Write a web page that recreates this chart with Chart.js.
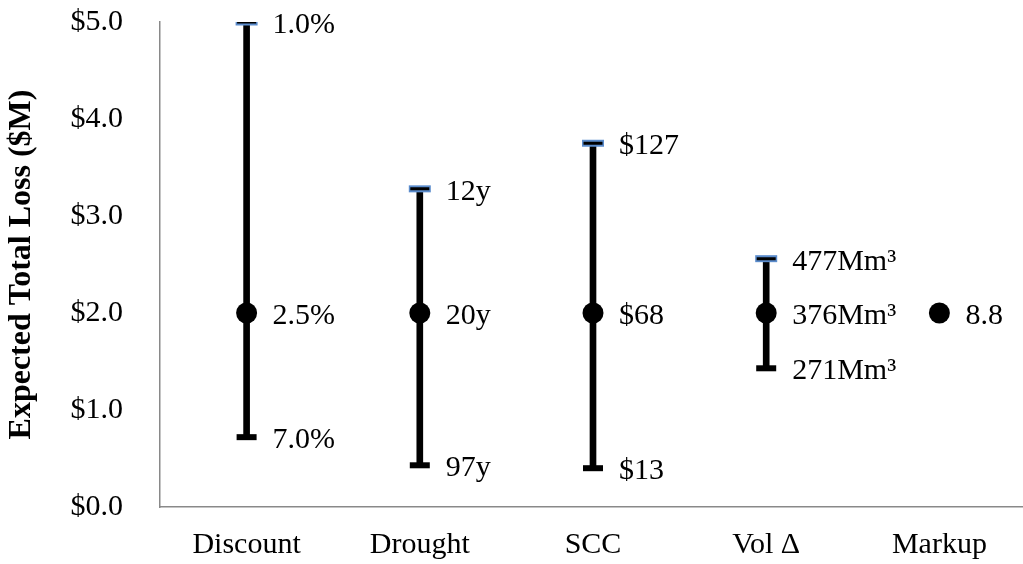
<!DOCTYPE html>
<html>
<head>
<meta charset="utf-8">
<script src="https://cdn.jsdelivr.net/npm/chart.js@4/dist/chart.umd.min.js"></script>
<style>
  html, body { margin: 0; padding: 0; background: #fff; overflow: hidden; }
  canvas { display: block; }
</style>
</head>
<body>
<canvas id="chart" width="1044" height="564"></canvas>
<script>
const categories = ['Discount', 'Drought', 'SCC', 'Vol \u0394', 'Markup'];
const midValues  = [2.0, 2.0, 2.0, 2.0, 2.0];
const highValues = [5.0, 3.28, 3.75, 2.56, null];
const lowValues  = [0.72, 0.43, 0.40, 1.43, null];

const midLabels  = ['2.5%', '20y', '$68', '376Mm\u00b3', '8.8'];
const highLabels = ['1.0%', '12y', '$127', '477Mm\u00b3', ''];
const lowLabels  = ['7.0%', '97y', '$13', '271Mm\u00b3', ''];

const yTicks = [0, 1, 2, 3, 4, 5];

const SERIF = '"Liberation Serif", "Times New Roman", serif';
const axisGray = '#898989';
const capBlue = '#5b8ccc';

// draws the text next to each point
const pointLabels = {
  id: 'pointLabels',
  afterDatasetsDraw(chart) {
    const ctx = chart.ctx;
    ctx.save();
    ctx.font = '30px ' + SERIF;
    ctx.fillStyle = '#000';
    ctx.textAlign = 'left';
    ctx.textBaseline = 'middle';
    chart.data.datasets.forEach((ds, di) => {
      if (!ds.textLabels) return;
      const meta = chart.getDatasetMeta(di);
      meta.data.forEach((el, i) => {
        const txt = ds.textLabels[i];
        if (!txt || ds.data[i] == null) return;
        ctx.fillText(txt, el.x + 26, el.y + 3);
      });
    });
    ctx.restore();
  }
};

new Chart(document.getElementById('chart'), {
  data: {
    labels: categories,
    datasets: [
      {
        type: 'bar',
        data: categories.map((c, i) => lowValues[i] == null ? null : [lowValues[i], highValues[i]]),
        backgroundColor: '#000',
        barThickness: 6,
        order: 5,
      },
      {
        type: 'line',
        data: highValues,
        showLine: false,
        pointStyle: 'line',
        pointRadius: 11,
        pointBorderWidth: 7,
        pointBorderColor: capBlue,
        order: 3,
      },
      {
        type: 'line',
        data: highValues,
        showLine: false,
        pointStyle: 'line',
        pointRadius: 9.5,
        pointBorderWidth: 3,
        pointBorderColor: '#000',
        textLabels: highLabels,
        order: 2,
      },
      {
        type: 'line',
        data: lowValues,
        showLine: false,
        pointStyle: 'line',
        pointRadius: 10,
        pointBorderWidth: 6,
        pointBorderColor: '#000',
        textLabels: lowLabels,
        order: 2,
      },
      {
        type: 'line',
        data: midValues,
        showLine: false,
        pointStyle: 'circle',
        pointRadius: 10.5,
        pointBorderWidth: 0,
        pointBackgroundColor: '#000',
        textLabels: midLabels,
        order: 0,
      },
    ],
  },
  options: {
    responsive: false,
    animation: false,
    layout: { padding: { top: 22, right: 0, bottom: 0, left: 0 } },
    plugins: {
      legend: { display: false },
      tooltip: { enabled: false },
    },
    scales: {
      x: {
        grid: { display: false, drawTicks: false },
        border: { color: axisGray, width: 1.5 },
        ticks: { color: '#000', font: { family: SERIF, size: 30 }, padding: 20, maxRotation: 0 },
        afterFit: s => { s.height = 57; s.paddingLeft = 0; s.paddingRight = 0; },
      },
      y: {
        min: 0,
        max: 5,
        grid: { display: false, drawTicks: false },
        border: { color: axisGray, width: 1.5 },
        afterBuildTicks: s => { s.ticks = yTicks.map(v => ({ value: v })); },
        ticks: {
          color: '#000',
          font: { family: SERIF, size: 30 },
          padding: 37,
          callback: v => '$' + Number(v).toFixed(1),
        },
        title: {
          display: true,
          text: 'Expected Total Loss ($M)',
          color: '#000',
          font: { family: SERIF, size: 32, weight: 'bold' },
          padding: { top: 3, bottom: 0 },
        },
        afterFit: s => { s.width = 160; s.paddingTop = 0; s.paddingBottom = 0; },
      },
    },
  },
  plugins: [pointLabels],
});
</script>
</body>
</html>
